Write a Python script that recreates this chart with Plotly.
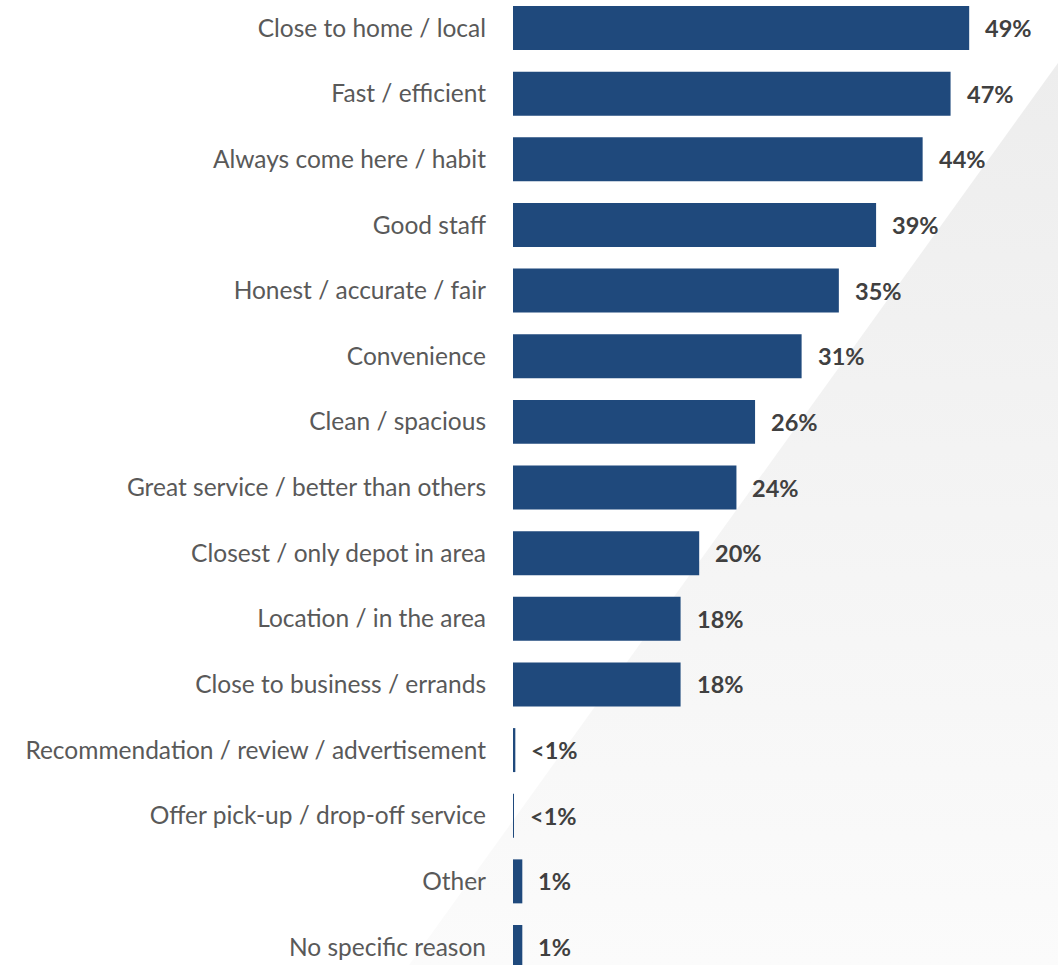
import plotly.graph_objects as go

# Reasons for choosing this depot (share of respondents, %)
categories = [
    "Close to home / local",
    "Fast / efficient",
    "Always come here / habit",
    "Good staff",
    "Honest / accurate / fair",
    "Convenience",
    "Clean / spacious",
    "Great service / better than others",
    "Closest / only depot in area",
    "Location / in the area",
    "Close to business / errands",
    "Recommendation / review / advertisement",
    "Offer pick-up / drop-off service",
    "Other",
    "No specific reason",
]
values = [49, 47, 44, 39, 35, 31, 26, 24, 20, 18, 18, 0.25, 0.1, 1, 1]
value_labels = ["49%", "47%", "44%", "39%", "35%", "31%", "26%", "24%", "20%",
                "18%", "18%", "<1%", "<1%", "1%", "1%"]

W, H = 1058, 965
BAR_COLOR = "#1f497c"

fig = go.Figure()

# Soft grey diagonal panel behind the chart (full-page background axes)
fig.add_trace(go.Scatter(
    x=[1058, 1058, 409, 1058], y=[63, 965, 965, 63],
    xaxis="x", yaxis="y",
    mode="lines", line=dict(width=0), fill="toself",
    fillgradient=dict(type="vertical",
                      colorscale=[[0, "#fbfbfb"], [1, "#ededed"]]),
    hoverinfo="skip", showlegend=False,
))

# Horizontal bars
fig.add_trace(go.Bar(
    x=values, y=categories, orientation="h",
    xaxis="x2", yaxis="y2",
    marker=dict(color=BAR_COLOR, line=dict(width=0)),
    hoverinfo="skip", showlegend=False,
))

annotations = [
    dict(x=v, y=c, xref="x2", yref="y2", text=t, showarrow=False,
         xanchor="left", yanchor="middle", xshift=14,
         font=dict(family="Lato", size=23.5, color="#404040", weight="bold"))
    for c, v, t in zip(categories, values, value_labels)
]

fig.update_layout(
    width=W, height=H,
    margin=dict(l=0, r=0, t=0, b=0),
    paper_bgcolor="white",
    plot_bgcolor="rgba(0,0,0,0)",
    showlegend=False,
    bargap=0.33,
    annotations=annotations,
    xaxis=dict(domain=[0, 1], range=[0, W], visible=False, fixedrange=True),
    yaxis=dict(domain=[0, 1], range=[H, 0], visible=False, fixedrange=True),
    xaxis2=dict(domain=[513 / W, 1], range=[0, 545 / 9.31], anchor="y2",
                visible=False, fixedrange=True),
    yaxis2=dict(domain=[0, 1], anchor="x2", type="category",
                categoryorder="array", categoryarray=categories,
                range=[14.274, -0.427],
                showgrid=False, zeroline=False, showline=False,
                ticks="", ticklabelstandoff=26,
                tickfont=dict(family="Lato", size=24.5, color="#595959"),
                fixedrange=True),
)

fig.write_html("out.html")
